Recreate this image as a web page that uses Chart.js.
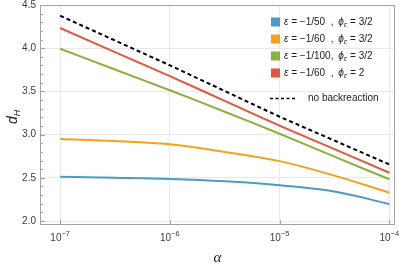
<!DOCTYPE html>
<html>
<head>
<meta charset="utf-8">
<script src="https://cdn.jsdelivr.net/npm/chart.js@4.4.0/dist/chart.umd.min.js"></script>
<style>
  html, body { margin: 0; padding: 0; background: #fff; }
  #wrap { width: 399px; height: 266px; }
</style>
</head>
<body>
<div id="wrap"><canvas id="dhChart" width="399" height="266"></canvas></div>
<script>
// values
const alphaValues = [1e-7, 3.16e-7, 1e-6, 3.16e-6, 1e-5, 3.16e-5, 1e-4];
const dH_eps50 = [2.513, 2.501, 2.486, 2.459, 2.415, 2.342, 2.197];
const dH_eps60 = [2.949, 2.926, 2.888, 2.799, 2.693, 2.525, 2.328];
const dH_eps100 = [3.994, 3.753, 3.514, 3.265, 3.010, 2.745, 2.483];
const dH_eps60_phi2 = [4.234, 3.955, 3.677, 3.39, 3.104, 2.833, 2.559];
const alphaNoBack = [1e-7, 1e-6, 1e-5, 1e-4];
const dH_noBack = [4.376, 3.802, 3.207, 2.655];

const epsLabels = ['−1/50', '−1/60', '−1/100', '−1/60'];
const phiLabels = ['3/2', '3/2', '3/2', '2'];
const seriesColors = ['#4a9bc7', '#f6a01c', '#8cb13a', '#e9543a'];

const xTicks = [1e-7, 1e-6, 1e-5, 1e-4];
const xExponents = ['−7', '−6', '−5', '−4'];
const yMajorTicks = [2.0, 2.5, 3.0, 3.5, 4.0, 4.5];
const yMinorTicks = [2.1, 2.2, 2.3, 2.4, 2.6, 2.7, 2.8, 2.9, 3.1, 3.2, 3.3, 3.4,
                     3.6, 3.7, 3.8, 3.9, 4.1, 4.2, 4.3, 4.4];

const frameColor = '#a3a3a3';
const gridColor = '#e8e8e8';
const labelColor = '#3c3c3c';
const sans = '"Liberation Sans", Arial, sans-serif';

function toPoints(xs, ys) {
    return xs.map((x, i) => ({ x: x, y: ys[i] }));
}

const curves = [dH_eps50, dH_eps60, dH_eps100, dH_eps60_phi2];
const datasets = curves.map((vals, i) => ({
    data: toPoints(alphaValues, vals),
    borderColor: seriesColors[i],
    borderWidth: 2,
    pointRadius: 0,
    tension: 0.4,
    fill: false
}));
datasets.push({
    data: toPoints(alphaNoBack, dH_noBack),
    borderColor: '#000',
    borderWidth: 2,
    borderDash: [4, 3],
    pointRadius: 0,
    fill: false
});

// draw a row of text pieces with their own fonts / vertical shifts
function drawRuns(ctx, x, y, runs) {
    runs.forEach(r => {
        ctx.font = r.font;
        ctx.fillText(r.t, x, y + (r.dy || 0));
        x += ctx.measureText(r.t).width;
    });
    return x;
}

// frame, inward ticks, tick labels, axis titles and legend
const decorPlugin = {
    id: 'decor',
    afterDraw(chart) {
        const { ctx, chartArea: a, scales: { x, y } } = chart;
        ctx.save();

        // frame
        ctx.strokeStyle = frameColor;
        ctx.lineWidth = 1;
        ctx.strokeRect(a.left + 0.5, a.top + 0.5, a.right - a.left - 1, a.bottom - a.top - 1);

        // y ticks
        ctx.beginPath();
        yMajorTicks.forEach(v => {
            const py = Math.round(y.getPixelForValue(v)) + 0.5;
            ctx.moveTo(a.left, py); ctx.lineTo(a.left + 5, py);
        });
        yMinorTicks.forEach(v => {
            const py = Math.round(y.getPixelForValue(v)) + 0.5;
            ctx.moveTo(a.left, py); ctx.lineTo(a.left + 3, py);
        });
        // x ticks
        xTicks.forEach(v => {
            const px = Math.round(x.getPixelForValue(v)) + 0.5;
            ctx.moveTo(px, a.bottom); ctx.lineTo(px, a.bottom - 5);
        });
        ctx.stroke();

        // y tick labels
        ctx.fillStyle = labelColor;
        ctx.font = '10px ' + sans;
        ctx.textAlign = 'right';
        ctx.textBaseline = 'middle';
        yMajorTicks.forEach(v => {
            ctx.fillText(v.toFixed(1), a.left - 4, y.getPixelForValue(v));
        });

        // x tick labels: 10 with superscript exponent
        ctx.textAlign = 'left';
        ctx.textBaseline = 'alphabetic';
        xTicks.forEach((v, i) => {
            ctx.font = '10px ' + sans;
            const w1 = ctx.measureText('10').width;
            ctx.font = '7.5px ' + sans;
            const w2 = ctx.measureText(xExponents[i]).width;
            const x0 = x.getPixelForValue(v) - (w1 + w2) / 2;
            drawRuns(ctx, x0, 241, [
                { t: '10', font: '10px ' + sans },
                { t: xExponents[i], font: '7.5px ' + sans, dy: -5 }
            ]);
        });

        // axis titles
        ctx.fillStyle = '#222';
        ctx.font = 'italic 15px "Liberation Serif", serif';
        ctx.textAlign = 'center';
        ctx.fillText('α', (a.left + a.right) / 2, 262);

        ctx.save();
        ctx.translate(17, 124);
        ctx.rotate(-Math.PI / 2);
        ctx.textAlign = 'left';
        drawRuns(ctx, 0, 0, [
            { t: 'd', font: 'italic 14px ' + sans },
            { t: 'H', font: 'italic 9px ' + sans, dy: 3 }
        ]);
        ctx.restore();

        // legend
        ctx.textAlign = 'left';
        ctx.textBaseline = 'middle';
        const rowY = [22, 39, 56, 73];
        const sx = 271, tx = 284;
        ctx.font = 'italic 10px ' + sans;
        const epsW = ctx.measureText('ε').width;
        ctx.font = '10px ' + sans;
        const commaX = tx + epsW + ctx.measureText(' = −1/100').width;
        const phiX = commaX + ctx.measureText(', ').width + 2;
        rowY.forEach((ry, i) => {
            ctx.fillStyle = seriesColors[i];
            ctx.fillRect(sx, ry - 4.5, 9, 9);
            ctx.fillStyle = '#222';
            drawRuns(ctx, tx, ry, [
                { t: 'ε', font: 'italic 10px ' + sans },
                { t: ' = ' + epsLabels[i], font: '10px ' + sans }
            ]);
            ctx.font = '10px ' + sans;
            ctx.fillText(',', commaX, ry);
            drawRuns(ctx, phiX, ry, [
                { t: 'ϕ', font: 'italic 10px ' + sans },
                { t: 'c', font: 'italic 7px ' + sans, dy: 3 },
                { t: ' = ' + phiLabels[i], font: '10px ' + sans }
            ]);
        });

        // dashed legend entry
        ctx.strokeStyle = '#000';
        ctx.lineWidth = 1.5;
        ctx.setLineDash([3, 2.5]);
        ctx.beginPath();
        ctx.moveTo(270, 98.5); ctx.lineTo(297, 98.5);
        ctx.stroke();
        ctx.setLineDash([]);
        ctx.font = '10px ' + sans;
        ctx.fillText('no backreaction', 308, 98.5);

        ctx.restore();
    }
};

const chart = new Chart(document.getElementById('dhChart'), {
    type: 'line',
    data: { datasets: datasets },
    plugins: [decorPlugin],
    options: {
        responsive: false,
        animation: false,
        layout: { padding: { left: 0, top: 5, right: 4, bottom: 0 } },
        plugins: { legend: { display: false }, tooltip: { enabled: false } },
        scales: {
            x: {
                type: 'logarithmic',
                min: 6.55e-8,
                max: 1.127e-4,
                afterBuildTicks: s => { s.ticks = xTicks.map(v => ({ value: v })); },
                afterFit: s => { s.height = 41; },
                ticks: { display: false },
                grid: { color: gridColor, drawTicks: false },
                border: { display: false }
            },
            y: {
                type: 'linear',
                min: 1.954,
                max: 4.5,
                afterBuildTicks: s => { s.ticks = yMajorTicks.map(v => ({ value: v })); },
                afterFit: s => { s.width = 40; },
                ticks: { display: false },
                grid: { color: gridColor, drawTicks: false },
                border: { display: false }
            }
        }
    }
});
</script>
</body>
</html>
